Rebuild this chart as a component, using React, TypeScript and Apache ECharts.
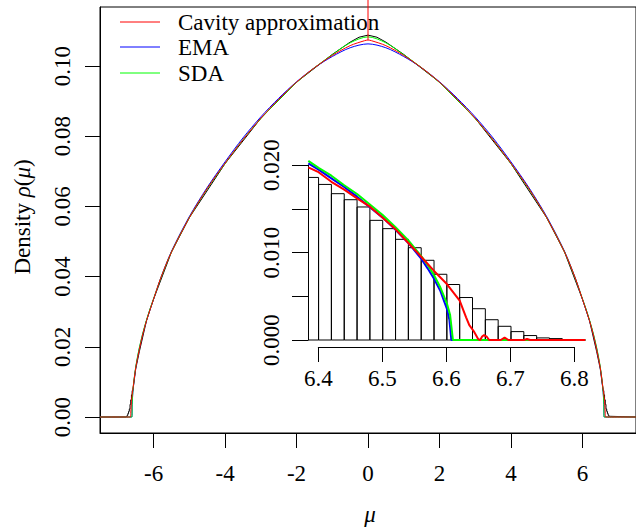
import React, { useEffect, useRef } from "react";
import * as echarts from "echarts";

// ---------- data ----------
const muTicks = [-6, -4, -2, 0, 2, 4, 6];
const rhoTicks = [0, 0.02, 0.04, 0.06, 0.08, 0.1];
const insetXTicks = [6.4, 6.5, 6.6, 6.7, 6.8];
const insetYTicks = [0, 0.005, 0.01, 0.015, 0.02];
const insetYLabelValues = [0, 0.01, 0.02];

const seriesNames = ["Cavity approximation", "EMA", "SDA"];

// main panel: [mu, density]
const redMain: [number, number][] = [
  [-7.5, 0], [-6.65, 0], [-6.64, 0.001], [-6.62, 0.0045], [-6.6, 0.0064], [-6.58, 0.0079],
  [-6.54, 0.0111], [-6.5, 0.014], [-6.45, 0.0167], [-6.4, 0.0192], [-6.3, 0.0237], [-6.2, 0.0274],
  [-6.1, 0.0306], [-6.0, 0.0336], [-5.8, 0.0396], [-5.5, 0.047], [-5.0, 0.0568], [-4.5, 0.0651],
  [-4.0, 0.0723], [-3.5, 0.079], [-3.0, 0.0851], [-2.5, 0.0905], [-2.0, 0.0954], [-1.5, 0.0995],
  [-1.0, 0.103], [-0.5, 0.1058], [-0.1, 0.1072], [0, 0.1074],
  [0.1, 0.1072], [0.5, 0.1058], [1.0, 0.103], [1.5, 0.0995], [2.0, 0.0954], [2.5, 0.0905],
  [3.0, 0.0851], [3.5, 0.079], [4.0, 0.0723], [4.5, 0.0651], [5.0, 0.0568], [5.5, 0.047],
  [5.8, 0.0396], [6.0, 0.0336], [6.1, 0.0306], [6.2, 0.0274], [6.3, 0.0237], [6.4, 0.0192],
  [6.45, 0.0167], [6.5, 0.014], [6.54, 0.0111], [6.58, 0.0079], [6.6, 0.0064], [6.62, 0.0045],
  [6.64, 0.001], [6.65, 0], [7.5, 0],
];
// the cavity curve's narrow spike at mu = 0
const redSpike: [number, number][] = [[0, 0.1074], [0, 0.119]];
const blueMain: [number, number][] = [
  [-7.5, 0], [-6.607, 0], [-6.6, 0.0036], [-6.58, 0.007], [-6.55, 0.0102], [-6.5, 0.014],
  [-6.45, 0.0169], [-6.4, 0.0195], [-6.3, 0.0238], [-6.2, 0.0274], [-6.1, 0.0307], [-6.0, 0.0336],
  [-5.8, 0.0396], [-5.5, 0.0472], [-5.0, 0.0571], [-4.5, 0.0654], [-4.0, 0.0727], [-3.5, 0.0795],
  [-3.0, 0.0855], [-2.5, 0.0908], [-2.0, 0.0955], [-1.5, 0.0995], [-1.0, 0.1027], [-0.5, 0.1052],
  [0, 0.1063], [0.5, 0.1052], [1.0, 0.1027], [1.5, 0.0995], [2.0, 0.0955], [2.5, 0.0908],
  [3.0, 0.0855], [3.5, 0.0795], [4.0, 0.0727], [4.5, 0.0654], [5.0, 0.0571], [5.5, 0.0472],
  [5.8, 0.0396], [6.0, 0.0336], [6.1, 0.0307], [6.2, 0.0274], [6.3, 0.0238], [6.4, 0.0195],
  [6.45, 0.0169], [6.5, 0.014], [6.55, 0.0102], [6.58, 0.007], [6.6, 0.0036], [6.607, 0], [7.5, 0],
];
const greenMain: [number, number][] = [
  [-7.5, 0], [-6.61, 0], [-6.6, 0.0042], [-6.58, 0.0074], [-6.55, 0.0105], [-6.5, 0.0143],
  [-6.45, 0.0172], [-6.4, 0.0197], [-6.3, 0.024], [-6.2, 0.0276], [-6.1, 0.0308], [-6.0, 0.0337],
  [-5.8, 0.0395], [-5.5, 0.047], [-5.0, 0.0568], [-4.5, 0.065], [-4.0, 0.0722], [-3.5, 0.079],
  [-3.0, 0.085], [-2.5, 0.0903], [-2.0, 0.0953], [-1.5, 0.0995], [-1.0, 0.1032], [-0.5, 0.1066],
  [0, 0.1083], [0.5, 0.1066], [1.0, 0.1032], [1.5, 0.0995], [2.0, 0.0953], [2.5, 0.0903],
  [3.0, 0.085], [3.5, 0.079], [4.0, 0.0722], [4.5, 0.065], [5.0, 0.0568], [5.5, 0.047],
  [5.8, 0.0395], [6.0, 0.0337], [6.1, 0.0308], [6.2, 0.0276], [6.3, 0.024], [6.4, 0.0197],
  [6.45, 0.0172], [6.5, 0.0143], [6.55, 0.0105], [6.58, 0.0074], [6.6, 0.0042], [6.61, 0], [7.5, 0],
];
// histogram outline in the main panel (mostly hidden under the curves)
const histMain: [number, number][] = [
  [-7.5, 0], [-6.78, 0], [-6.78, 0.0002], [-6.74, 0.0002], [-6.74, 0.0005], [-6.72, 0.0005],
  [-6.72, 0.001], [-6.7, 0.001], [-6.7, 0.0016], [-6.68, 0.0016], [-6.68, 0.0023], [-6.66, 0.0023],
  [-6.66, 0.0036], [-6.64, 0.0036], [-6.64, 0.0049], [-6.62, 0.0049], [-6.62, 0.0063], [-6.6, 0.0063],
  [-6.6, 0.0075], [-6.58, 0.0075], [-6.5, 0.0137], [-6.4, 0.0186], [-6.2, 0.0274], [-6.0, 0.0336],
  [-5.5, 0.047], [-5.0, 0.0568], [-4.0, 0.0722], [-3.0, 0.0851], [-2.0, 0.0954], [-1.0, 0.1033],
  [-0.5, 0.1068], [-0.25, 0.1082], [0, 0.1088], [0.25, 0.1082], [0.5, 0.1068], [1.0, 0.1033],
  [2.0, 0.0954], [3.0, 0.0851], [4.0, 0.0722], [5.0, 0.0568], [5.5, 0.047], [6.0, 0.0336],
  [6.2, 0.0274], [6.4, 0.0186], [6.5, 0.0137], [6.58, 0.0075], [6.6, 0.0075], [6.6, 0.0063],
  [6.62, 0.0063], [6.62, 0.0049], [6.64, 0.0049], [6.64, 0.0036], [6.66, 0.0036], [6.66, 0.0023],
  [6.68, 0.0023], [6.68, 0.0016], [6.7, 0.0016], [6.7, 0.001], [6.72, 0.001], [6.72, 0.0005],
  [6.74, 0.0005], [6.74, 0.0002], [6.78, 0.0002], [6.78, 0], [7.5, 0],
];

// inset: histogram bins [start, end, density]
const binStarts = [6.38, 6.4, 6.42, 6.44, 6.46, 6.48, 6.5, 6.52, 6.54, 6.56, 6.58, 6.6, 6.62, 6.64, 6.66, 6.68, 6.7, 6.72, 6.74, 6.76];
const binHeights = [0.0186, 0.0178, 0.01674, 0.01605, 0.01522, 0.01369, 0.01274, 0.01152, 0.01056, 0.00912, 0.00752, 0.00635, 0.00486, 0.00358, 0.00232, 0.00157, 0.00096, 0.00051, 0.00024, 0.00016];
const binWidth = 0.02;

const redInset: [number, number][] = [
  [6.384, 0.01976], [6.4, 0.0192], [6.42, 0.0181], [6.44, 0.0172], [6.46, 0.0162], [6.48, 0.01525],
  [6.5, 0.014], [6.52, 0.01266], [6.54, 0.0111], [6.56, 0.00953], [6.58, 0.0079], [6.6, 0.0064],
  [6.62, 0.0045], [6.63, 0.0026], [6.635, 0.0017], [6.642, 0.001], [6.649, 0.0001], [6.652, 0],
  [6.655, 0.0004], [6.658, 0.00057], [6.662, 0.0004], [6.666, 0], [6.684, 0], [6.69, 0.00028],
  [6.696, 0], [6.72, 0], [6.725, 0.00012], [6.73, 0], [6.816, 0],
];
const blueInset: [number, number][] = [
  [6.384, 0.0202], [6.4, 0.0195], [6.42, 0.0185], [6.44, 0.0175], [6.46, 0.0164], [6.48, 0.0152],
  [6.5, 0.014], [6.52, 0.0126], [6.54, 0.0111], [6.56, 0.0093], [6.57, 0.0082], [6.58, 0.007],
  [6.59, 0.0056], [6.6, 0.0036], [6.604, 0.0023], [6.607, 0], [6.816, 0],
];
const greenInset: [number, number][] = [
  [6.384, 0.0205], [6.4, 0.0197], [6.42, 0.0188], [6.44, 0.0177], [6.46, 0.0167], [6.48, 0.0155],
  [6.5, 0.0143], [6.52, 0.0129], [6.54, 0.0114], [6.56, 0.0096], [6.57, 0.0086], [6.58, 0.0074],
  [6.59, 0.006], [6.6, 0.0042], [6.605, 0.0029], [6.6095, 0], [6.816, 0],
];

const RED = "#FF0000";
const BLUE = "#0000FF";
const GREEN = "#00FF00";
const legendColors = [RED, BLUE, GREEN];
const FONT = "'Liberation Serif', 'Times New Roman', serif";
const FS = 23;

export default function App() {
  const ref = useRef<HTMLDivElement>(null);
  useEffect(() => {
    if (!ref.current) return;
    const chart = echarts.init(ref.current, undefined, { renderer: "svg" });
    const txt = { fontFamily: FONT, fontSize: FS, color: "#000" };
    const histData = binStarts.map((s, i) => [s, s + binWidth, binHeights[i]]);
    const line = (name: string, data: any, color: string, width: number, xi: number, smooth = false, clip = true) => ({
      type: "line",
      name,
      data,
      xAxisIndex: xi,
      yAxisIndex: xi,
      symbol: "none",
      showSymbol: false,
      smooth: smooth ? 0.3 : false,
      clip,
      color,
      lineStyle: { color, width },
      itemStyle: { color },
      emphasis: { disabled: true },
      silent: true,
    });
    const axLine = { show: true, onZero: false, lineStyle: { color: "#000", width: 1 } };
    const legendRows = [22, 47, 73];
    const legendGraphics: any[] = [];
    seriesNames.forEach((n, i) => {
      legendGraphics.push({
        type: "line",
        shape: { x1: 120, y1: legendRows[i], x2: 160, y2: legendRows[i] },
        style: { stroke: legendColors[i], lineWidth: 1 },
        silent: true,
      });
      legendGraphics.push({
        type: "text",
        x: 178,
        y: legendRows[i],
        style: { text: n, fontFamily: FONT, fontSize: FS, fill: "#000", align: "left", verticalAlign: "middle" },
        silent: true,
      });
    });
    chart.setOption({
      animation: false,
      backgroundColor: "#fff",
      grid: [
        { left: 100, top: 7, width: 540, height: 426, show: true, borderColor: "#000", borderWidth: 1, backgroundColor: "transparent" },
        { left: 308.3, top: 158.2, width: 277.1, height: 188.8 },
        { left: 308, top: 165, width: 60, height: 175 },
        { left: 318.3, top: 150, width: 256, height: 197 },
      ],
      xAxis: [
        {
          gridIndex: 0, type: "value", min: -7.5, max: 7.5,
          axisLine: axLine,
          axisTick: { show: true, customValues: muTicks, length: 15, lineStyle: { color: "#000" } },
          axisLabel: { customValues: muTicks, margin: 29, ...txt, formatter: (v: number) => String(v) },
          splitLine: { show: false },
        },
        { gridIndex: 1, type: "value", min: 6.384, max: 6.816, show: false },
        { gridIndex: 2, type: "value", min: 0, max: 1, show: false },
        {
          gridIndex: 3, type: "value", min: 6.4, max: 6.8,
          axisLine: axLine,
          axisTick: { show: true, customValues: insetXTicks, length: 15, lineStyle: { color: "#000" } },
          axisLabel: { customValues: insetXTicks, margin: 20, ...txt, formatter: (v: number) => v.toFixed(1) },
          splitLine: { show: false },
        },
      ],
      yAxis: [
        {
          gridIndex: 0, type: "value", min: -0.004558, max: 0.11681,
          axisLine: axLine,
          axisTick: { show: true, customValues: rhoTicks, length: 15, lineStyle: { color: "#000" } },
          axisLabel: { customValues: rhoTicks, rotate: 90, margin: 26, ...txt, formatter: (v: number) => v.toFixed(2) },
          splitLine: { show: false },
        },
        { gridIndex: 1, type: "value", min: -0.0008, max: 0.0208, show: false },
        {
          gridIndex: 2, type: "value", min: 0, max: 0.02,
          axisLine: axLine,
          axisTick: { show: true, customValues: insetYTicks, length: 16, lineStyle: { color: "#000" } },
          axisLabel: { customValues: insetYLabelValues, rotate: 90, margin: 25, ...txt, formatter: (v: number) => v.toFixed(3) },
          splitLine: { show: false },
        },
        { gridIndex: 3, type: "value", min: 0, max: 1, show: false },
      ],
      graphic: [
        ...legendGraphics,
        {
          type: "text", x: 22, y: 217, rotation: Math.PI / 2,
          style: {
            text: "Density {i|ρ}({i|μ})",
            fontFamily: FONT, fontSize: FS, fill: "#000",
            align: "center", verticalAlign: "middle",
            rich: { i: { fontFamily: FONT, fontSize: FS, fontStyle: "italic", fill: "#000" } },
          },
        },
        {
          type: "text", x: 370, y: 514,
          style: { text: "μ", fontFamily: FONT, fontSize: FS, fontStyle: "italic", fill: "#000", align: "center", verticalAlign: "middle" },
        },
      ],
      series: [
        line("hist", histMain, "#000", 1, 0),
        line(seriesNames[1], blueMain, BLUE, 1, 0, true),
        line(seriesNames[2], greenMain, GREEN, 1, 0, true),
        line(seriesNames[0], redMain, RED, 1, 0, true),
        line("Cavity spike", redSpike, RED, 1, 0, false, false),
        {
          type: "custom",
          name: "inset hist",
          xAxisIndex: 1,
          yAxisIndex: 1,
          clip: true,
          silent: true,
          data: histData,
          encode: { x: [0, 1], y: 2 },
          renderItem: (params: any, api: any) => {
            const p0 = api.coord([api.value(0), 0]);
            const p1 = api.coord([api.value(1), api.value(2)]);
            return {
              type: "rect",
              shape: { x: p0[0], y: p1[1], width: p1[0] - p0[0], height: p0[1] - p1[1] },
              style: { fill: "none", stroke: "#000", lineWidth: 1 },
            };
          },
        },
        line("EMA inset", blueInset, BLUE, 2, 1),
        line("SDA inset", greenInset, GREEN, 2, 1),
        line("Cavity inset", redInset, RED, 2, 1),
      ],
    });
    return () => chart.dispose();
  }, []);
  return <div ref={ref} style={{ position: "absolute", left: 0, top: 0, width: 636, height: 529 }} />;
}
